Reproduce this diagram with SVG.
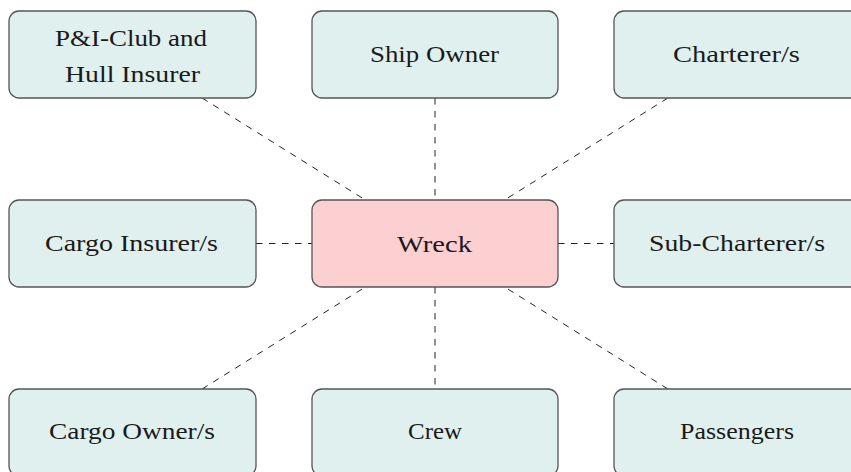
<svg xmlns="http://www.w3.org/2000/svg" width="851" height="472" viewBox="0 0 851 472">
<style>
.box{fill:#e0f0ef;stroke:#555;stroke-width:1.3}
.main{fill:#fcd0d0;stroke:#555;stroke-width:1.3}
text{font-family:"Liberation Serif","Times New Roman",serif;font-size:23.5px;fill:#1a1a1a}
.c line{stroke:#222;stroke-width:1;stroke-dasharray:6.5 6.5}
</style>
<rect width="851" height="472" fill="#fff"/>
<g class="c" id="connectors">
<line x1="202.1" y1="98" x2="365.4" y2="200"/>
<line x1="435" y1="98" x2="435" y2="200"/>
<line x1="667.9" y1="98" x2="504.6" y2="200"/>
<line x1="256" y1="243.5" x2="312" y2="243.5"/>
<line x1="558" y1="243.5" x2="614" y2="243.5"/>
<line x1="202.1" y1="389" x2="365.4" y2="287"/>
<line x1="435" y1="287" x2="435" y2="389"/>
<line x1="667.9" y1="389" x2="504.6" y2="287"/>
</g>
<g id="pi"><rect class="box" x="9" y="11" width="247" height="87" rx="10"/><text x="55" y="46" textLength="152" lengthAdjust="spacingAndGlyphs">P&amp;I-Club and</text><text x="65" y="82" textLength="135" lengthAdjust="spacingAndGlyphs">Hull Insurer</text></g>
<g id="owner"><rect class="box" x="312" y="11" width="246" height="87" rx="10"/><text x="370" y="62" textLength="129" lengthAdjust="spacingAndGlyphs">Ship Owner</text></g>
<g id="charterer"><rect class="box" x="614" y="11" width="247" height="87" rx="10"/><text x="673" y="62" textLength="127" lengthAdjust="spacingAndGlyphs">Charterer/s</text></g>
<g id="cargoins"><rect class="box" x="9" y="200" width="247" height="87" rx="10"/><text x="45" y="251" textLength="173" lengthAdjust="spacingAndGlyphs">Cargo Insurer/s</text></g>
<g id="wreck"><rect class="main" x="312" y="200" width="246" height="87" rx="10"/><text x="397" y="252" textLength="75" lengthAdjust="spacingAndGlyphs">Wreck</text></g>
<g id="subch"><rect class="box" x="614" y="200" width="247" height="87" rx="10"/><text x="649" y="251" textLength="176" lengthAdjust="spacingAndGlyphs">Sub-Charterer/s</text></g>
<g id="cargoown"><rect class="box" x="9" y="389" width="247" height="87" rx="10"/><text x="49" y="439" textLength="166" lengthAdjust="spacingAndGlyphs">Cargo Owner/s</text></g>
<g id="crew"><rect class="box" x="312" y="389" width="246" height="87" rx="10"/><text x="408" y="439" textLength="54" lengthAdjust="spacingAndGlyphs">Crew</text></g>
<g id="passengers"><rect class="box" x="614" y="389" width="247" height="87" rx="10"/><text x="680" y="439" textLength="114" lengthAdjust="spacingAndGlyphs">Passengers</text></g>
</svg>
